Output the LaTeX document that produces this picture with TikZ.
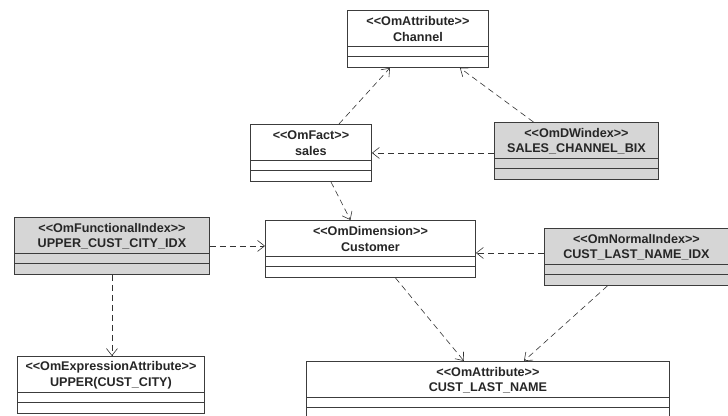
\documentclass[tikz,border=0pt]{standalone}
\usepackage{fontspec}
\setmainfont{Liberation Sans}
\usetikzlibrary{arrows.meta}
\definecolor{boxline}{HTML}{3C3C3C}
\definecolor{idxgray}{HTML}{D6D6D6}
\tikzset{
  classbox/.style = {draw=boxline,fill=white,line width=0.9pt,inner sep=0pt,minimum height=57pt},
  idxbox/.style   = {classbox,fill=idxgray},
  omtext/.style   = {font=\bfseries\fontsize{12.6}{14}\selectfont,text=black!85,inner sep=0pt},
  depend/.style   = {-{Straight Barb[length=7pt,width=11pt]},dash pattern=on 6pt off 4pt,line width=0.6pt,black!80}
}
\newcommand{\stereo}[1]{<{}<#1>{}>}
% style, name, left, top, width, stereotype, title
\newcommand{\omclass}[7]{%
  \node[#1,minimum width=#5pt,anchor=north west] (#2) at (#3,#4) {};
  \draw[boxline,line width=0.8pt] ([yshift=-36pt]#2.north west) -- ([yshift=-36pt]#2.north east);
  \draw[boxline,line width=0.8pt] ([yshift=-46pt]#2.north west) -- ([yshift=-46pt]#2.north east);
  \node[omtext] (#2-st) at ([yshift=-11pt]#2.north) {\stereo{#6}};
  \node[omtext] (#2-nm) at ([yshift=-27pt]#2.north) {#7};
}

\begin{document}
\begin{tikzpicture}[x=1pt,y=-1pt]
  \clip (0,0) rectangle (728,415);
  \fill[white] (0,0) rectangle (728,415);
  % classes
  \omclass{classbox}{chan}{347}{10}{141}{OmAttribute}{Channel}
  \omclass{classbox}{sales}{250}{124}{121}{OmFact}{sales}
  \omclass{idxbox}{bix}{494}{122}{164}{OmDWindex}{SALES\_CHANNEL\_BIX}
  \omclass{classbox}{cust}{265}{220}{210}{OmDimension}{Customer}
  \omclass{idxbox}{fidx}{14}{217}{195}{OmFunctionalIndex}{UPPER\_CUST\_CITY\_IDX}
  \omclass{idxbox}{nidx}{544}{228}{184}{OmNormalIndex}{CUST\_LAST\_NAME\_IDX}
  \omclass{classbox}{expr}{17}{356}{187}{OmExpressionAttribute}{UPPER(CUST\_CITY)}
  \omclass{classbox}{lname}{306}{361}{363}{OmAttribute}{CUST\_LAST\_NAME}
  % dependencies
  \draw[depend] ([xshift=28pt]sales.north) -- ([xshift=-28pt]chan.south);
  \draw[depend] ([xshift=-43pt]bix.north) -- ([xshift=42pt]chan.south);
  \draw[depend] (bix.west |- sales.east) -- (sales.east);
  \draw[depend] ([xshift=20pt]sales.south) -- ([xshift=-20pt]cust.north);
  \draw[depend] (fidx.east) -- (fidx.east -| cust.west);
  \draw[depend] (fidx.south) -- (fidx.south |- expr.north);
  \draw[depend] ([yshift=4pt]nidx.west) -- ([yshift=4pt]nidx.west -| cust.east);
  \draw[depend] ([xshift=25pt]cust.south) -- ([xshift=-24pt]lname.north);
  \draw[depend] ([xshift=-29pt]nidx.south) -- ([xshift=36pt]lname.north);
\end{tikzpicture}
\end{document}
